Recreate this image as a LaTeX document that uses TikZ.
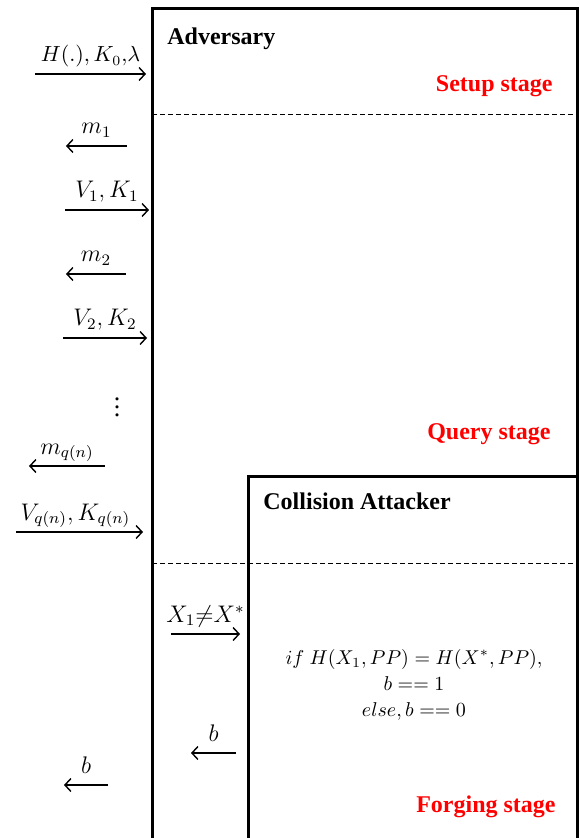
\documentclass[tikz,border=0pt]{standalone}
\usepackage{fontspec}
\setmainfont{Liberation Serif}
\usetikzlibrary{arrows.meta,positioning}
\definecolor{stagered}{rgb}{1, 0, 0}

\begin{document}
\begin{tikzpicture}[x=0.5pt,y=-0.5pt]
	\useasboundingbox (0,0) rectangle (579,838);

	\tikzstyle{box line}=[line width=1.5pt]
	\tikzstyle{stage line}=[line width=0.5pt, dash pattern=on 2.5pt off 1.5pt]
	\tikzstyle{message}=[line width=0.7pt, -{Straight Barb[length=3pt,width=6.5pt]}]
	\tikzstyle{msg label}=[anchor=base, yshift=6pt, inner sep=0pt, font=\fontsize{11.5}{13}\selectfont]
	\tikzstyle{party}=[anchor=base west, inner sep=0pt, font=\fontsize{12}{14}\selectfont\bfseries]
	\tikzstyle{stage}=[anchor=base east, inner sep=0pt, text=stagered, font=\fontsize{12}{14}\selectfont\bfseries]

	% Draw the adversary and the collision attacker.
	\draw[box line] (152,838) -- (152,9) -- (577,9) -- (577,838);
	\draw[box line] (248,838) -- (248,476) -- (577,476);
	\node[party] (adversary) at (167,45) {Adversary};
	\node[party] (attacker) at (263,509) {Collision Attacker};

	% Stage borders.
	\draw[stage line] (152,115) -- (577,115);
	\draw[stage line] (152,563) -- (577,563);
	\node[stage] (setup) at (553,92) {Setup stage};
	\node[stage] (query) at (551,439) {Query stage};
	\node[stage] (forging) at (556,812) {Forging stage};

	% Messages of the setup and query stages.
	\coordinate (pp0) at (35,74);   \coordinate (pp1) at (146,74);
	\coordinate (ma0) at (127,146); \coordinate (ma1) at (66,146);
	\coordinate (va0) at (65,210);  \coordinate (va1) at (149,210);
	\coordinate (mb0) at (126,274); \coordinate (mb1) at (66,274);
	\coordinate (vb0) at (63,338);  \coordinate (vb1) at (147,338);
	\coordinate (mq0) at (105,466); \coordinate (mq1) at (29,466);
	\coordinate (vq0) at (16,532);  \coordinate (vq1) at (143,532);
	\draw[message] (pp0) -- node[msg label, font=\fontsize{10.5}{12}\selectfont] {$H(.),K_0,\!\lambda$} (pp1);
	\draw[message] (ma0) -- node[msg label] {$m_1$} (ma1);
	\draw[message] (va0) -- node[msg label] {$V_1,K_1$} (va1);
	\draw[message] (mb0) -- node[msg label] {$m_2$} (mb1);
	\draw[message] (vb0) -- node[msg label] {$V_2,K_2$} (vb1);
	\node[font=\fontsize{13}{14}\selectfont, inner sep=0pt] (dots) at (117,401) {$\vdots$};
	\draw[message] (mq0) -- node[msg label] {$m_{q(n)}$} (mq1);
	\draw[message] (vq0) -- node[msg label, xshift=-2pt] {$V_{q(n)},K_{q(n)}$} (vq1);

	% Forging stage.
	\coordinate (xa0) at (171,634); \coordinate (xa1) at (240,634);
	\coordinate (ba0) at (236,753); \coordinate (ba1) at (191,753);
	\coordinate (bb0) at (108,785); \coordinate (bb1) at (64,785);
	\draw[message] (xa0) -- node[msg label] {$X_1{\neq}X^*$} (xa1);
	\draw[message] (ba0) -- node[msg label] {$b$} (ba1);
	\draw[message] (bb0) -- node[msg label] {$b$} (bb1);
	\node[anchor=base, inner sep=0pt, align=center, font=\fontsize{10.4}{13}\selectfont] (check) at (414,716)
		{$if\ H(X_1,PP)=H(X^*,PP),$\\ $b==1$\\ $else,b==0$};
\end{tikzpicture}
\end{document}
